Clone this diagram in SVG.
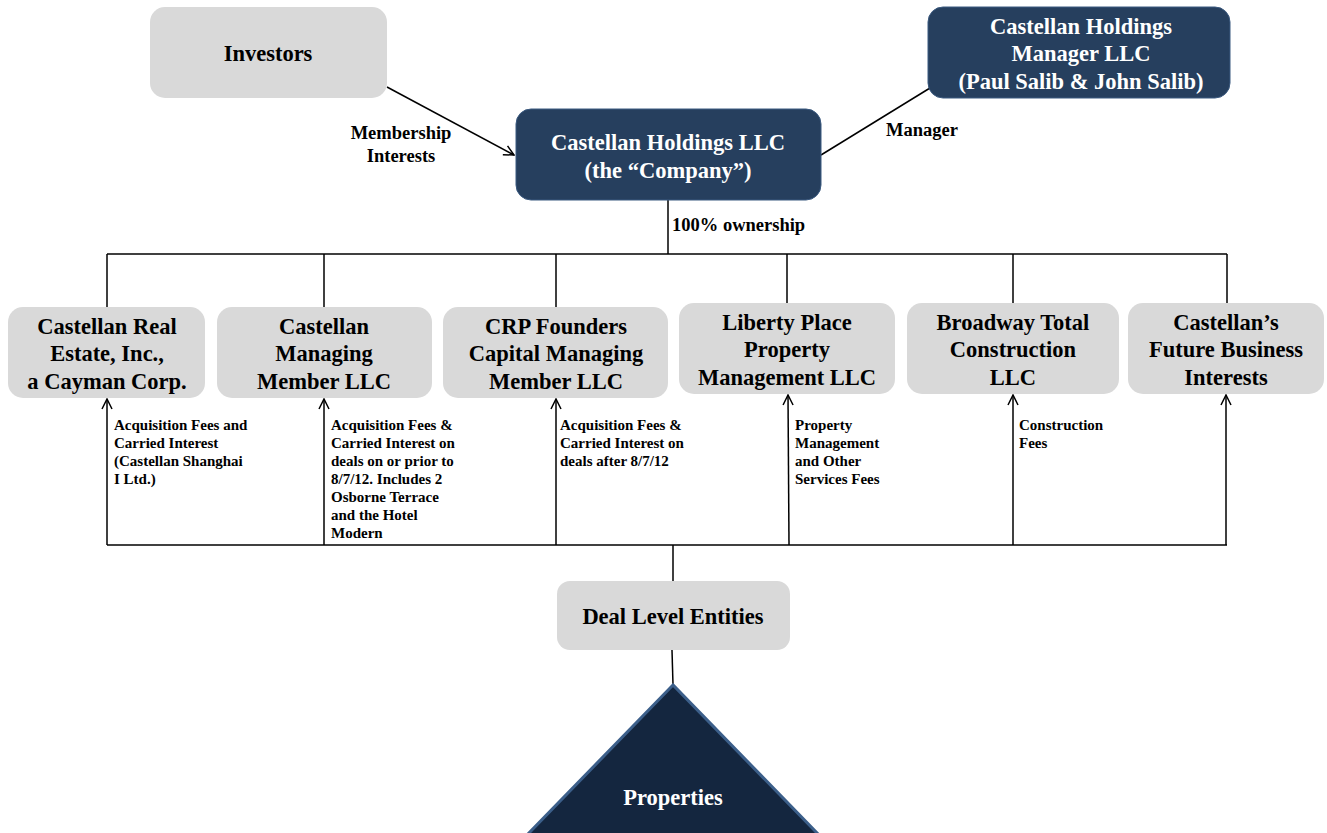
<svg xmlns="http://www.w3.org/2000/svg" width="1327" height="833" viewBox="0 0 1327 833">
<defs>
<style>
.grey{fill:#d9d9d9;stroke:none}
.navy{fill:#263f5e;stroke:#3b5a80;stroke-width:1}
.t{font-family:"Liberation Serif","Times New Roman",serif;font-weight:bold;font-size:22.5px;text-anchor:middle}
.dk{fill:#000}
.wt{fill:#fff}
.lbl{font-family:"Liberation Serif","Times New Roman",serif;font-weight:bold;font-size:18.5px;fill:#000}
.sm{font-family:"Liberation Serif","Times New Roman",serif;font-weight:bold;font-size:15px;fill:#000}
.ln{stroke:#000;stroke-width:1.5;fill:none}
</style>
<marker id="arr" viewBox="0 0 12 12" refX="11" refY="6" markerWidth="12" markerHeight="12" markerUnits="userSpaceOnUse" orient="auto">
<path d="M1,1 L11,6 L1,11" fill="none" stroke="#000" stroke-width="1.5"/>
</marker>
</defs>
<rect width="1327" height="833" fill="#fff"/>

<g id="connectors">
<line class="ln" x1="387" y1="87" x2="514" y2="155" marker-end="url(#arr)"/>
<line class="ln" x1="821" y1="155" x2="930" y2="88"/>
<line class="ln" x1="668" y1="200" x2="668" y2="254"/>
<line class="ln" x1="107" y1="254" x2="1227" y2="254"/>
<line class="ln" x1="107" y1="254" x2="107" y2="308"/>
<line class="ln" x1="324" y1="254" x2="324" y2="308"/>
<line class="ln" x1="556" y1="254" x2="556" y2="308"/>
<line class="ln" x1="787" y1="254" x2="787" y2="304"/>
<line class="ln" x1="1013" y1="254" x2="1013" y2="304"/>
<line class="ln" x1="1227" y1="254" x2="1227" y2="304"/>
<line class="ln" x1="107" y1="545" x2="1227" y2="545"/>
<line class="ln" x1="107" y1="545" x2="107" y2="399" marker-end="url(#arr)"/>
<line class="ln" x1="324" y1="545" x2="324" y2="399" marker-end="url(#arr)"/>
<line class="ln" x1="556" y1="545" x2="556" y2="399" marker-end="url(#arr)"/>
<line class="ln" x1="789" y1="545" x2="788" y2="395" marker-end="url(#arr)"/>
<line class="ln" x1="1013" y1="545" x2="1013" y2="395" marker-end="url(#arr)"/>
<line class="ln" x1="1226" y1="545" x2="1226" y2="395" marker-end="url(#arr)"/>
<line class="ln" x1="673" y1="545" x2="673" y2="581"/>
<line class="ln" x1="672" y1="650" x2="673" y2="685"/>
</g>

<g id="labels">
<text class="lbl" text-anchor="middle" x="401" y="139">Membership</text>
<text class="lbl" text-anchor="middle" x="401" y="162">Interests</text>
<text class="lbl" x="886" y="136">Manager</text>
<text class="lbl" x="672" y="231">100% ownership</text>
<g class="sm">
<text x="114" y="430">Acquisition Fees and</text>
<text x="114" y="448">Carried Interest</text>
<text x="114" y="466">(Castellan Shanghai</text>
<text x="114" y="484">I Ltd.)</text>
</g>
<g class="sm">
<text x="331" y="430">Acquisition Fees &amp;</text>
<text x="331" y="448">Carried Interest on</text>
<text x="331" y="466">deals on or prior to</text>
<text x="331" y="484">8/7/12. Includes 2</text>
<text x="331" y="502">Osborne Terrace</text>
<text x="331" y="520">and the Hotel</text>
<text x="331" y="538">Modern</text>
</g>
<g class="sm">
<text x="560" y="430">Acquisition Fees &amp;</text>
<text x="560" y="448">Carried Interest on</text>
<text x="560" y="466">deals after 8/7/12</text>
</g>
<g class="sm">
<text x="795" y="430">Property</text>
<text x="795" y="448">Management</text>
<text x="795" y="466">and Other</text>
<text x="795" y="484">Services Fees</text>
</g>
<g class="sm">
<text x="1019" y="430">Construction</text>
<text x="1019" y="448">Fees</text>
</g>
</g>

<g id="investors">
<rect class="grey" x="150" y="7" width="237" height="91" rx="15"/>
<text class="t dk" x="268" y="61">Investors</text>
</g>

<g id="manager">
<rect class="navy" x="928" y="7" width="302" height="91" rx="15"/>
<text class="t wt" x="1081" y="34">Castellan Holdings</text>
<text class="t wt" x="1081" y="61">Manager LLC</text>
<text class="t wt" x="1081" y="89">(Paul Salib &amp; John Salib)</text>
</g>

<g id="company">
<rect class="navy" x="516" y="109" width="305" height="91" rx="15"/>
<text class="t wt" x="668" y="150">Castellan Holdings LLC</text>
<text class="t wt" x="668" y="178">(the “Company”)</text>
</g>

<g id="cre">
<rect class="grey" x="8" y="307" width="197" height="91" rx="15"/>
<text class="t dk" x="107" y="334">Castellan Real</text>
<text class="t dk" x="107" y="361">Estate, Inc.,</text>
<text class="t dk" x="107" y="389">a Cayman Corp.</text>
</g>

<g id="cmm">
<rect class="grey" x="217" y="307" width="215" height="91" rx="15"/>
<text class="t dk" x="324" y="334">Castellan</text>
<text class="t dk" x="324" y="361">Managing</text>
<text class="t dk" x="324" y="389">Member LLC</text>
</g>

<g id="crp">
<rect class="grey" x="443" y="307" width="225" height="91" rx="15"/>
<text class="t dk" x="556" y="334">CRP Founders</text>
<text class="t dk" x="556" y="361">Capital Managing</text>
<text class="t dk" x="556" y="389">Member LLC</text>
</g>

<g id="liberty">
<rect class="grey" x="679" y="303" width="216" height="91" rx="15"/>
<text class="t dk" x="787" y="330">Liberty Place</text>
<text class="t dk" x="787" y="357">Property</text>
<text class="t dk" x="787" y="385">Management LLC</text>
</g>

<g id="broadway">
<rect class="grey" x="907" y="303" width="212" height="91" rx="15"/>
<text class="t dk" x="1013" y="330">Broadway Total</text>
<text class="t dk" x="1013" y="357">Construction</text>
<text class="t dk" x="1013" y="385">LLC</text>
</g>

<g id="future">
<rect class="grey" x="1128" y="303" width="196" height="91" rx="15"/>
<text class="t dk" x="1226" y="330">Castellan’s</text>
<text class="t dk" x="1226" y="357">Future Business</text>
<text class="t dk" x="1226" y="385">Interests</text>
</g>

<g id="deal">
<rect class="grey" x="557" y="581" width="233" height="69" rx="13"/>
<text class="t dk" x="673" y="624">Deal Level Entities</text>
</g>

<g id="properties">
<polygon points="673,685 527,835 819,835" fill="#14263f" stroke="#3c5f8a" stroke-width="3"/>
<text class="t wt" x="673" y="805">Properties</text>
</g>
</svg>
